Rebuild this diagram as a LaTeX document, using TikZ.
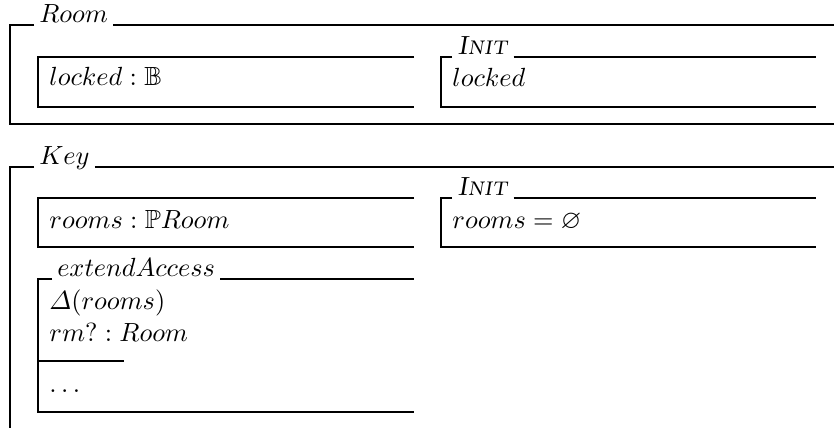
\documentclass[tikz,border=0pt]{standalone}
\usepackage{amsmath}
\usepackage{amssymb}
\usetikzlibrary{positioning}

\newcommand{\initname}{\textit{\textsc{Init}}}

\begin{document}
\begin{tikzpicture}[x=0.01465cm, y=-0.01465cm,
    font=\fontsize{10.95pt}{13.6pt}\selectfont,
    outer/.style={line width=0.85pt},
    inner/.style={line width=0.55pt},
    title/.style={anchor=base west, inner xsep=2pt, inner ysep=0pt},
    body/.style={anchor=base west, inner sep=0pt}]
    \useasboundingbox (0,0) rectangle (834,428);

    % Room schema with its state and init
    \node[title] (room) at (34,23) {$Room$};
    \draw[outer] (room.west |- 0,25) -- (10,25) -- (10,124) -- (834,124);
    \draw[outer] (room.east |- 0,25) -- (834,25);

    \draw[inner] (414,57) -- (38,57) -- (38,107) -- (414,107);
    \node[body] (roomstate) at (49,86) {$locked : \mathbb{B}$};

    \node[title] (roominit) at (452,55) {\initname};
    \draw[inner] (roominit.west |- 0,57) -- (441,57) -- (441,107) -- (816,107);
    \draw[inner] (roominit.east |- 0,57) -- (816,57);
    \node[body] (roompred) at (452,87) {$locked$};

    % Key schema
    \node[title] (key) at (34,165) {$Key$};
    \draw[outer] (key.west |- 0,167) -- (10,167) -- (10,428);
    \draw[outer] (key.east |- 0,167) -- (834,167);

    \draw[inner] (414,198) -- (38,198) -- (38,247) -- (414,247);
    \node[body] (keystate) at (49,229) {$rooms : \mathbb{P} Room$};

    \node[title] (keyinit) at (452,196) {\initname};
    \draw[inner] (keyinit.west |- 0,198) -- (441,198) -- (441,247) -- (816,247);
    \draw[inner] (keyinit.east |- 0,198) -- (816,198);
    \node[body] (keypred) at (452,229) {$rooms = \varnothing$};

    % operation box
    \node[title] (extend) at (52,277) {$extendAccess$};
    \draw[inner] (extend.west |- 0,279) -- (38,279) -- (38,412) -- (414,412);
    \draw[inner] (extend.east |- 0,279) -- (414,279);
    \draw[inner] (38,361) -- (124,361);
    \node[body] (delta) at (49,310) {$\varDelta(rooms)$};
    \node[body] (input) at (49,342) {$rm? : Room$};
    \node[body] (dots) at (49,393) {$\ldots$};
\end{tikzpicture}
\end{document}
